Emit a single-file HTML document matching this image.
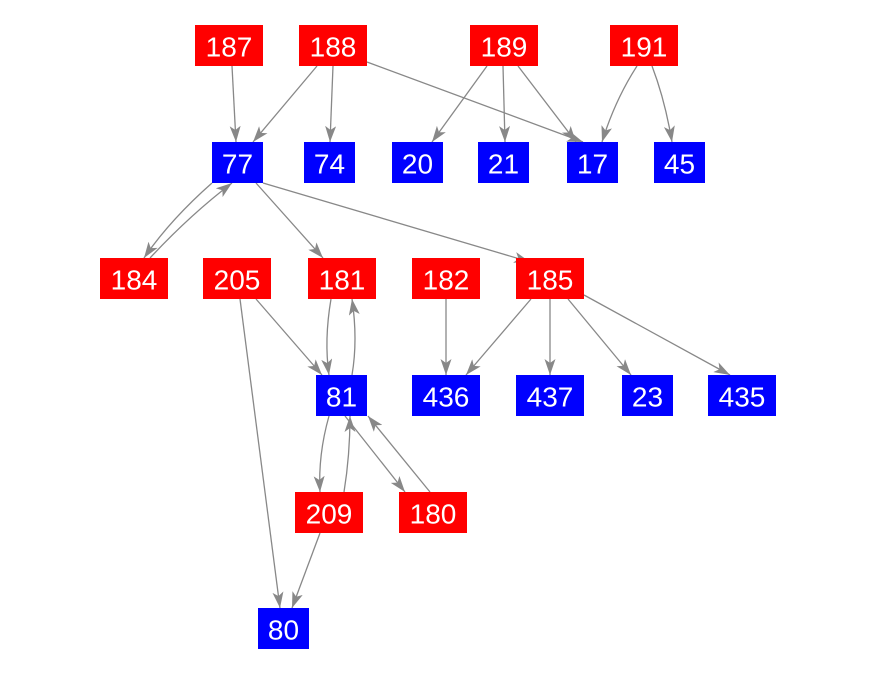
<!DOCTYPE html><html><head><style>body{margin:0;background:#fff}svg{display:block}text{font-family:"Liberation Sans",Arial,sans-serif;font-size:28px;fill:#fff;text-anchor:middle;dominant-baseline:central}</style></head><body>
<svg width="875" height="675" viewBox="0 0 875 675">
<defs><marker id="a" viewBox="0 0 16 11" refX="16" refY="5.5" markerWidth="16" markerHeight="11" markerUnits="userSpaceOnUse" orient="auto"><path d="M0,0L16,5.5L0,11L4,5.5z" fill="#888"/></marker></defs>
<g stroke="#888" stroke-width="1.3" fill="none" marker-end="url(#a)">
<path d="M232,66L236,142"/><path d="M317,66L253,142"/><path d="M333,66L330,142"/><path d="M367,62L583,142"/>
<path d="M487,66L432,142"/><path d="M503,66L505,142"/><path d="M518,66L576,142"/>
<path d="M637,66Q615,100 602,142"/><path d="M652,66Q665,100 672,142"/>
<path d="M212,183Q170,220 144,258"/><path d="M150,258Q190,215 232,183"/>
<path d="M256,183L323,258"/><path d="M263,183L530,262"/>
<path d="M256,299L322,375"/><path d="M240,299L280,608"/>
<path d="M331,299Q324,340 329,375"/><path d="M352,375Q358,340 352,299"/>
<path d="M446,299L446,375"/><path d="M531,299L466,375"/><path d="M550,299L550,375"/><path d="M568,299L631,375"/><path d="M584,295L730,375"/>
<path d="M329,416Q318,455 320,492"/><path d="M344,492Q350,455 350,416"/>
<path d="M345,416L405,492"/><path d="M430,492L368,416"/>
<path d="M320,533L292,608"/>
</g>
<g fill="#f00">
<rect x="195" y="25" width="68" height="41"/><rect x="299" y="25" width="68" height="41"/><rect x="470" y="25" width="68" height="41"/><rect x="610" y="25" width="68" height="41"/>
<rect x="100" y="258" width="68" height="41"/><rect x="203" y="258" width="68" height="41"/><rect x="308" y="258" width="68" height="41"/><rect x="412" y="258" width="68" height="41"/><rect x="516" y="258" width="68" height="41"/>
<rect x="295" y="492" width="68" height="41"/><rect x="399" y="492" width="68" height="41"/>
</g>
<g fill="#00f">
<rect x="212" y="142" width="51" height="41"/><rect x="304" y="142" width="51" height="41"/><rect x="392" y="142" width="51" height="41"/><rect x="478" y="142" width="51" height="41"/><rect x="567" y="142" width="51" height="41"/><rect x="654" y="142" width="51" height="41"/>
<rect x="316" y="375" width="51" height="41"/><rect x="412" y="375" width="68" height="41"/><rect x="516" y="375" width="68" height="41"/><rect x="622" y="375" width="51" height="41"/><rect x="708" y="375" width="68" height="41"/>
<rect x="258" y="608" width="51" height="41"/>
</g>
<g>
<text x="229" y="47">187</text><text x="333" y="47">188</text><text x="504" y="47">189</text><text x="644" y="47">191</text>
<text x="237.5" y="164">77</text><text x="329.5" y="164">74</text><text x="417.5" y="164">20</text><text x="503.5" y="164">21</text><text x="592.5" y="164">17</text><text x="679.5" y="164">45</text>
<text x="134" y="280">184</text><text x="237" y="280">205</text><text x="342" y="280">181</text><text x="446" y="280">182</text><text x="550" y="280">185</text>
<text x="341.5" y="397">81</text><text x="446" y="397">436</text><text x="550" y="397">437</text><text x="647.5" y="397">23</text><text x="742" y="397">435</text>
<text x="329" y="514">209</text><text x="433" y="514">180</text>
<text x="283.5" y="630">80</text>
</g>
</svg></body></html>
